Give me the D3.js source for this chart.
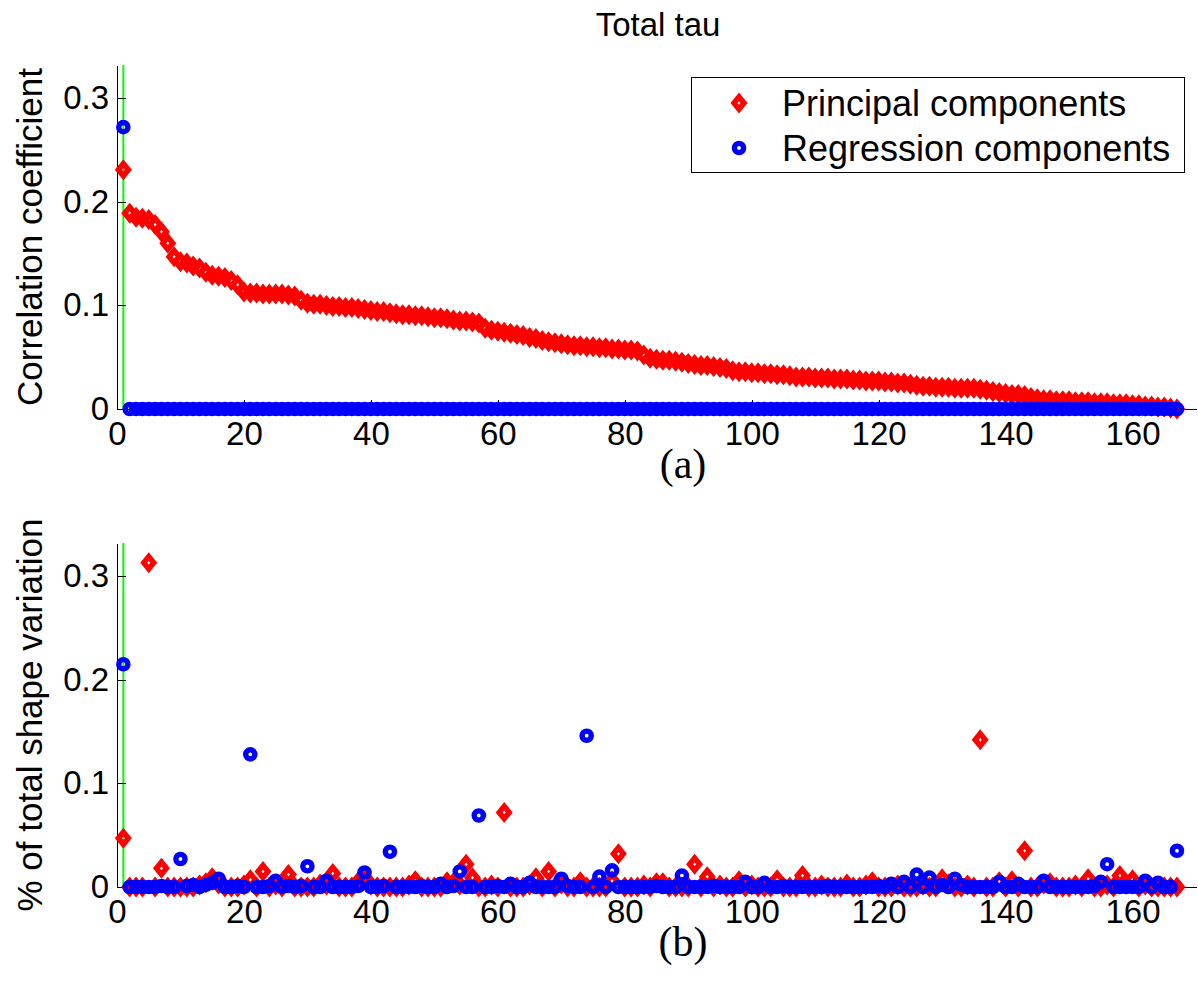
<!DOCTYPE html>
<html>
<head>
<meta charset="utf-8">
<script src="https://cdn.jsdelivr.net/npm/d3@7"></script>
<style>
  body { margin: 0; background: #fff; }
  svg { display: block; font-family: "Liberation Sans", Arial, Helvetica, sans-serif; }
  .axis path, .axis line { stroke: #000; stroke-width: 1; shape-rendering: crispEdges; }
  .axis text { font-size: 33px; fill: #000; }
</style>
</head>
<body>
<svg id="viz"></svg>
<script>
// ----------------------- DATA

// component numbers 1..167
const components = d3.range(1, 168);

const xTicks = [0, 20, 40, 60, 80, 100, 120, 140, 160];
const yTicks = [0, 0.1, 0.2, 0.3];
const yTickLabels = ['0', '0.1', '0.2', '0.3'];

// (a) correlation coefficient, principal components (sorted)
const pcCorr = [
  0.231, 0.189, 0.185, 0.184, 0.183, 0.178, 0.171, 0.160, 0.147, 0.142,
  0.141, 0.138, 0.136, 0.132, 0.129, 0.128, 0.127, 0.124, 0.120, 0.113,
  0.112, 0.112, 0.111, 0.111, 0.111, 0.111, 0.110, 0.109, 0.105, 0.102,
  0.101, 0.101, 0.100, 0.099, 0.099, 0.098, 0.098, 0.097, 0.096, 0.095,
  0.094, 0.094, 0.093, 0.092, 0.091, 0.091, 0.090, 0.090, 0.089, 0.088,
  0.088, 0.087, 0.086, 0.085, 0.085, 0.084, 0.083, 0.078, 0.076, 0.075,
  0.074, 0.073, 0.072, 0.071, 0.069, 0.068, 0.066, 0.065, 0.064, 0.063,
  0.062, 0.061, 0.061, 0.060, 0.060, 0.059, 0.059, 0.058, 0.058, 0.057,
  0.057, 0.056, 0.052, 0.049, 0.048, 0.047, 0.047, 0.046, 0.045, 0.044,
  0.043, 0.042, 0.042, 0.041, 0.040, 0.039, 0.037, 0.036, 0.036, 0.035,
  0.035, 0.034, 0.034, 0.033, 0.033, 0.032, 0.031, 0.031, 0.031, 0.030,
  0.030, 0.030, 0.029, 0.029, 0.029, 0.028, 0.028, 0.027, 0.027, 0.027,
  0.026, 0.026, 0.025, 0.025, 0.024, 0.023, 0.022, 0.022, 0.021, 0.021,
  0.021, 0.020, 0.020, 0.020, 0.020, 0.019, 0.018, 0.017, 0.016, 0.015,
  0.014, 0.014, 0.013, 0.011, 0.010, 0.009, 0.009, 0.008, 0.008, 0.008,
  0.007, 0.007, 0.007, 0.006, 0.006, 0.006, 0.005, 0.005, 0.005, 0.004,
  0.004, 0.003, 0.003, 0.002, 0.002, 0.001, 0.000
];

// (a) correlation coefficient, regression components
const regCorr = [
  0.272, 0, 0, 0, 0, 0, 0, 0, 0, 0, 0, 0, 0, 0, 0, 0, 0, 0, 0, 0,
  0, 0, 0, 0, 0, 0, 0, 0, 0, 0, 0, 0, 0, 0, 0, 0, 0, 0, 0, 0,
  0, 0, 0, 0, 0, 0, 0, 0, 0, 0, 0, 0, 0, 0, 0, 0, 0, 0, 0, 0,
  0, 0, 0, 0, 0, 0, 0, 0, 0, 0, 0, 0, 0, 0, 0, 0, 0, 0, 0, 0,
  0, 0, 0, 0, 0, 0, 0, 0, 0, 0, 0, 0, 0, 0, 0, 0, 0, 0, 0, 0,
  0, 0, 0, 0, 0, 0, 0, 0, 0, 0, 0, 0, 0, 0, 0, 0, 0, 0, 0, 0,
  0, 0, 0, 0, 0, 0, 0, 0, 0, 0, 0, 0, 0, 0, 0, 0, 0, 0, 0, 0,
  0, 0, 0, 0, 0, 0, 0, 0, 0, 0, 0, 0, 0, 0, 0, 0, 0, 0, 0, 0,
  0, 0, 0, 0, 0, 0, 0
];

// (b) % of total shape variation, principal components
const pcVar = [
  0.047, 0, 0, 0, 0.313, 0, 0.018, 0, 0, 0,
  0, 0, 0.002, 0.004, 0.009, 0.003, 0, 0, 0, 0.002,
  0.007, 0, 0.015, 0, 0.002, 0, 0.012, 0, 0, 0,
  0, 0.003, 0.002, 0.013, 0, 0, 0, 0.005, 0.007, 0.002,
  0, 0, 0, 0, 0, 0.002, 0.006, 0, 0, 0,
  0, 0.005, 0.004, 0.002, 0.022, 0.009, 0, 0, 0.002, 0,
  0.072, 0, 0, 0, 0.002, 0.009, 0, 0.015, 0, 0.003,
  0, 0, 0.005, 0, 0, 0, 0, 0.006, 0.032, 0,
  0, 0, 0.002, 0, 0.004, 0.004, 0, 0, 0, 0,
  0.022, 0, 0.010, 0, 0.002, 0, 0, 0.006, 0, 0.002,
  0, 0, 0, 0.007, 0, 0, 0, 0.011, 0, 0,
  0.002, 0, 0, 0, 0.003, 0, 0, 0.002, 0.005, 0,
  0, 0, 0.002, 0, 0, 0, 0.002, 0, 0, 0.008,
  0.003, 0, 0, 0.002, 0, 0.142, 0, 0, 0.005, 0,
  0.006, 0, 0.035, 0, 0, 0.003, 0.004, 0, 0, 0,
  0.002, 0, 0.008, 0, 0, 0.002, 0, 0.011, 0.003, 0.007,
  0, 0.002, 0, 0, 0, 0, 0
];

// (b) % of total shape variation, regression components
const regVar = [
  0.215, 0, 0, 0, 0, 0, 0.001, 0, 0, 0.027,
  0.001, 0.002, 0, 0.002, 0.004, 0.008, 0, 0, 0.001, 0,
  0.128, 0, 0, 0.001, 0.006, 0, 0.001, 0, 0.001, 0.020,
  0, 0, 0.006, 0, 0, 0, 0, 0.001, 0.014, 0,
  0, 0.001, 0.034, 0, 0, 0, 0, 0.001, 0, 0,
  0.003, 0, 0.001, 0.015, 0, 0, 0.069, 0, 0, 0.001,
  0, 0.003, 0, 0, 0.004, 0, 0, 0, 0, 0.008,
  0.001, 0, 0, 0.146, 0, 0.010, 0, 0.016, 0, 0,
  0, 0, 0, 0, 0.001, 0, 0, 0, 0.011, 0,
  0, 0, 0, 0.001, 0, 0, 0, 0, 0.005, 0,
  0, 0.004, 0, 0, 0.001, 0, 0, 0, 0, 0,
  0, 0.001, 0, 0, 0, 0, 0, 0, 0, 0.001,
  0, 0.003, 0, 0.005, 0, 0.012, 0, 0.009, 0, 0.002,
  0, 0.008, 0.002, 0, 0, 0, 0, 0, 0.005, 0,
  0, 0.003, 0, 0, 0, 0.006, 0, 0, 0, 0,
  0, 0, 0, 0.001, 0.005, 0.022, 0, 0, 0, 0,
  0, 0.006, 0, 0.004, 0, 0, 0.035
];

const seriesNames = ['Principal components', 'Regression components'];

// ----------------------- SETTINGS
const W = 1198, H = 982;
const left = 117, right = 1196;
const panels = [
  { top: 65, bottom: 409, pc: pcCorr, reg: regCorr, ylabel: 'Correlation coefficient', tag: '(a)', tagY: 478 },
  { top: 543, bottom: 887, pc: pcVar, reg: regVar, ylabel: '% of total shape variation', tag: '(b)', tagY: 956 }
];

const red = '#ff0000', blue = '#0000ff', green = '#00ff00';
// diamond with a small hole in the middle, like a thick-edged matlab 'd' marker
const diamondPath = 'M0,-10.5L8.5,0L0,10.5L-8.5,0Z M0,-1.8L1.5,0L0,1.8L-1.5,0Z';

const svg = d3.select('#viz')
  .attr('width', W)
  .attr('height', H);

svg.append('rect').attr('width', W).attr('height', H).attr('fill', '#fff');

svg.append('text')
  .attr('x', 658)
  .attr('y', 36)
  .attr('text-anchor', 'middle')
  .style('font-size', '33px')
  .text('Total tau');

function drawDiamond(sel) {
  sel.append('path')
    .attr('d', diamondPath)
    .attr('fill', red)
    .attr('fill-rule', 'evenodd');
}
function drawCircle(sel) {
  sel.append('circle')
    .attr('r', 4.6)
    .attr('fill', 'none')
    .attr('stroke', blue)
    .attr('stroke-width', 5.4);
}

// ----------------------- PANELS
panels.forEach((p, i) => {
  const x = d3.scaleLinear().domain([0, 170]).range([left, right]);
  const y = d3.scaleLinear().domain([0, 0.332]).range([p.bottom, p.top]);

  const g = svg.append('g');

  // green marker line at component 1 (under the markers)
  g.append('line')
    .attr('x1', x(1)).attr('x2', x(1))
    .attr('y1', y(0.332)).attr('y2', y(0))
    .attr('stroke', green)
    .attr('stroke-width', 2);

  const xAxis = d3.axisBottom(x)
    .tickValues(xTicks)
    .tickFormat(d3.format('d'))
    .tickSizeInner(-9)
    .tickSizeOuter(0)
    .tickPadding(13);

  const yAxis = d3.axisLeft(y)
    .tickValues(yTicks)
    .tickFormat((d, k) => yTickLabels[k])
    .tickSizeInner(-9)
    .tickSizeOuter(0)
    .tickPadding(8);

  g.append('g')
    .attr('class', 'x axis')
    .attr('transform', `translate(0, ${p.bottom})`)
    .call(xAxis);

  g.append('g')
    .attr('class', 'y axis')
    .attr('transform', `translate(${left}, 0)`)
    .call(yAxis);

  // principal components first, regression drawn on top
  g.append('g').selectAll('g')
    .data(components)
    .enter().append('g')
    .attr('transform', d => `translate(${x(d)}, ${y(p.pc[d - 1])})`)
    .call(drawDiamond);

  g.append('g').selectAll('g')
    .data(components)
    .enter().append('g')
    .attr('transform', d => `translate(${x(d)}, ${y(p.reg[d - 1])})`)
    .call(drawCircle);

  g.append('text')
    .attr('transform', `translate(42, ${(p.top + p.bottom) / 2}) rotate(-90)`)
    .attr('text-anchor', 'middle')
    .style('font-size', '35px')
    .text(p.ylabel);

  g.append('text')
    .attr('x', 683)
    .attr('y', p.tagY)
    .attr('text-anchor', 'middle')
    .style('font-family', '"Liberation Serif", "Times New Roman", serif')
    .style('font-size', '42px')
    .text(p.tag);
});

// ----------------------- LEGEND (top panel only)
const legend = svg.append('g');
legend.append('rect')
  .attr('x', 691.5).attr('y', 77.5)
  .attr('width', 493).attr('height', 95)
  .attr('fill', '#fff')
  .attr('stroke', '#000')
  .attr('stroke-width', 1);

const rows = legend.selectAll('.row')
  .data(seriesNames)
  .enter().append('g')
  .attr('class', 'row')
  .attr('transform', (d, i) => `translate(0, ${103 + i * 45})`);

rows.filter((d, i) => i === 0).append('g').attr('transform', 'translate(739, 0)').call(drawDiamond);
rows.filter((d, i) => i === 1).append('g').attr('transform', 'translate(739, 0)').call(drawCircle);

rows.append('text')
  .attr('x', 782)
  .attr('y', 12.5)
  .style('font-size', '36px')
  .text(d => d);
</script>
</body>
</html>
